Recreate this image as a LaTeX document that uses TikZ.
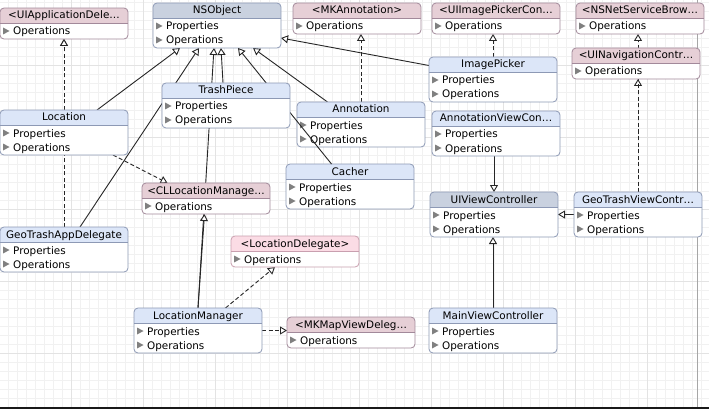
\documentclass[tikz,border=0pt]{standalone}
\usepackage{fontspec}
\setmainfont{DejaVu Sans}
\usetikzlibrary{arrows.meta}
\pgfdeclarelayer{bg}
\pgfsetlayers{bg,main}

\definecolor{clshead}{HTML}{DCE6F8}
\definecolor{clsline}{HTML}{8D99B5}
\definecolor{basehead}{HTML}{C9D1DF}
\definecolor{protohead}{HTML}{E6CFD6}
\definecolor{protoline}{HTML}{A2899A}
\definecolor{deleghead}{HTML}{FBDCE5}
\definecolor{delegline}{HTML}{C99FAF}
\definecolor{gridminor}{HTML}{F1F1F1}
\definecolor{gridmajor}{HTML}{E3E3E3}

\tikzset{
  umlbox/.style={rounded corners=4pt, fill=white, line width=0.8pt, minimum width=128pt,
    inner sep=0pt, outer sep=0pt,
    path picture={
      \fill[hdr, sharp corners] (path picture bounding box.north west)
        rectangle ([yshift=-15pt]path picture bounding box.north east);
      \draw[hdrsep, line width=0.8pt] ([yshift=-15pt]path picture bounding box.north west)
        -- ([yshift=-15pt]path picture bounding box.north east);}},
  classbox/.style={umlbox, draw=clsline, minimum height=45pt,
    hdr/.style={fill=clshead}, hdrsep/.style={draw=clsline}},
  basebox/.style={classbox, hdr/.style={fill=basehead}},
  protobox/.style={umlbox, draw=protoline, minimum height=31pt,
    hdr/.style={fill=protohead}, hdrsep/.style={draw=protoline}},
  delegbox/.style={protobox, draw=delegline,
    hdr/.style={fill=deleghead}, hdrsep/.style={draw=delegline}},
  boxtitle/.style={anchor=base, inner sep=0pt, font=\fontsize{10.4}{12}\selectfont},
  boxrow/.style={anchor=base west, inner sep=0pt, font=\fontsize{10.4}{12}\selectfont},
  disclose/.style={fill=black!50},
  inherit/.style={draw=black!85, line width=0.9pt,
    -{Triangle[open, fill=white, width=8pt, length=7pt]}},
  realize/.style={inherit, dash pattern=on 4pt off 2.5pt}
}

% class box: style, name, left, top, title
\newcommand\umlclass[5][classbox]{%
  \begin{scope}[shift={(#3,#4)}]
    \node[#1] (#2) at (64,22.5) {};
    \node[boxtitle] (#2-t) at (64,11) {#5};
    \fill[disclose] (3,19.5) -- (3,26.5) -- (9.5,23) -- cycle;
    \node[boxrow] (#2-p) at (13,27) {Properties};
    \fill[disclose] (3,33.5) -- (3,40.5) -- (9.5,37) -- cycle;
    \node[boxrow] (#2-o) at (13,41) {Operations};
  \end{scope}}
% protocol box: style, name, left, top, title
\newcommand\umlproto[5][protobox]{%
  \begin{scope}[shift={(#3,#4)}]
    \node[#1] (#2) at (64,15.5) {};
    \node[boxtitle] (#2-t) at (64,11) {#5};
    \fill[disclose] (3,19.5) -- (3,26.5) -- (9.5,23) -- cycle;
    \node[boxrow] (#2-o) at (13,27) {Operations};
  \end{scope}}

\begin{document}
\begin{tikzpicture}[x=1pt, y=-1pt]
    \useasboundingbox (0,0) rectangle (709,409);
    \begin{pgfonlayer}{bg}
    \fill[white] (0,0) rectangle (709,409);
    \draw[gridminor, step=9pt, shift={(8,2)}] (-9,-9) grid (702,408);
    \draw[gridmajor, step=72pt, shift={(71,65)}] (-72,-72) grid (639,344);
    \draw[black!35, line width=1pt] (697.5,0) -- (697.5,408);
    \draw[black!90, line width=1.6pt] (0,408) -- (709,408);
    \end{pgfonlayer}
    % top row
    \umlproto{uad}{0}{8}{<UIApplicationDele…}
    \umlclass[basebox]{nso}{153}{3}{NSObject}
    \umlproto{mka}{293}{3}{<MKAnnotation>}
    \umlproto{ipc}{432}{3}{<UIImagePickerCon…}
    \umlproto{nsb}{576}{3}{<NSNetServiceBrow…}
    \umlproto{unc}{572}{48}{<UINavigationContr…}
    \umlclass{ip}{429}{57}{ImagePicker}
    \umlclass{avc}{432}{111}{AnnotationViewCon…}
    \umlclass{ann}{297}{102}{Annotation}
    \umlclass{cac}{286}{164}{Cacher}
    \draw[inherit] ([xshift=-18.5pt]cac.north) -- ([xshift=21pt]nso.south);
    \umlclass{tp}{162}{83}{TrashPiece}
    \umlclass{loc}{0}{110}{Location}
    \umlproto{cld}{142}{183}{<CLLocationManage…}
    \umlclass{gad}{0}{227}{GeoTrashAppDelegate}
    \umlproto[delegbox]{ldl}{231}{236}{<LocationDelegate>}
    \umlclass{lm}{134}{308}{LocationManager}
    \umlproto{mmd}{287}{317}{<MKMapViewDeleg…}
    \umlclass[basebox]{uvc}{430}{192}{UIViewController}
    \umlclass{gvc}{574}{192}{GeoTrashViewContr…}
    \umlclass{mvc}{429}{308}{MainViewController}
    % connectors behind the boxes
    \begin{pgfonlayer}{bg}
    \draw[inherit] ([xshift=33pt]loc.north) -- ([xshift=-37pt]nso.south);
    \draw[inherit] ([xshift=16pt]gad.north) -- ([xshift=-18pt]nso.south);
    \draw[inherit] ([xshift=-3pt]tp.north) -- ([xshift=4pt]nso.south);
    \draw[inherit] (lm.north) -- ([xshift=-3pt]nso.south);
    \draw[inherit] (lm.north) -- ([xshift=-1.5pt]cld.south);
    \draw[inherit] ([xshift=-33.5pt]ann.north) -- ([xshift=36pt]nso.south);
    \draw[inherit] ([yshift=14pt]ip.west) -- ([yshift=-12.5pt]nso.east);
    \draw[inherit] (uvc.north |- avc.south) -- (uvc.north);
    \draw[inherit] (gvc.west) -- (uvc.east);
    \draw[inherit] (mvc.north) -- (mvc.north |- uvc.south);
    \draw[realize] (gad.north) -- (uad.south);
    \draw[realize] (loc.north) -- (uad.south);
    \draw[realize] (ann.north) -- (ann.north |- mka.south);
    \draw[realize] (ip.north) -- (ip.north |- ipc.south);
    \draw[realize] (gvc.north) -- (gvc.north |- unc.south);
    \draw[realize] (gvc.north) -- (gvc.north |- nsb.south);
    \draw[realize] ([xshift=49pt]loc.south) -- ([xshift=-38.5pt]cld.north);
    \draw[realize] ([xshift=27.5pt]lm.north) -- ([xshift=-20pt]ldl.south);
    \draw[realize] (lm.east) -- (lm.east -| mmd.west);
    \end{pgfonlayer}
\end{tikzpicture}
\end{document}
